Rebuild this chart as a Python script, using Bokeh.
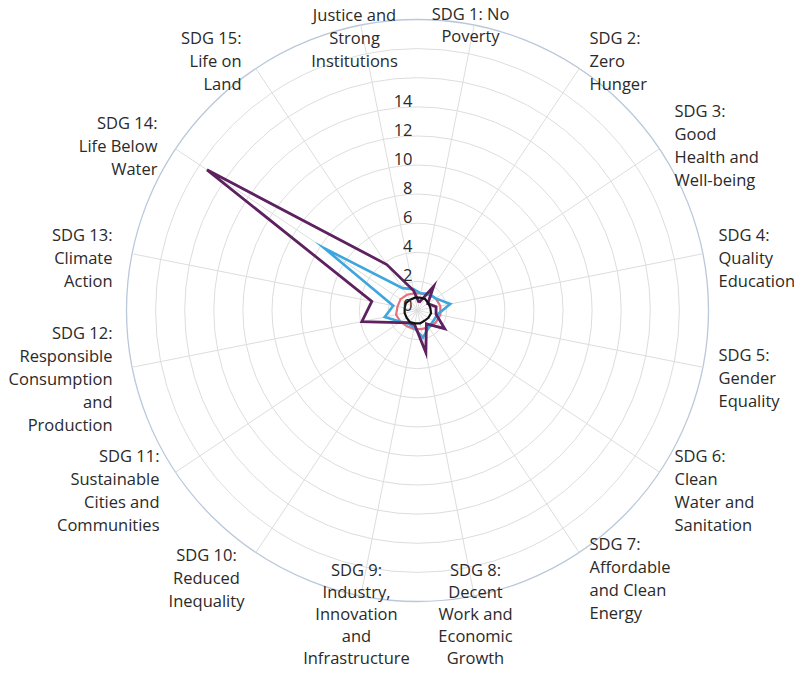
import math
from bokeh.plotting import figure
from bokeh.models import Range1d, ColumnDataSource
from bokeh.core.properties import value
from bokeh.embed import file_html
from bokeh.resources import INLINE

# ---------------- data ----------------
categories = ["SDG 1", "SDG 2", "SDG 3", "SDG 4", "SDG 5", "SDG 6", "SDG 7", "SDG 8",
              "SDG 9", "SDG 10", "SDG 11", "SDG 12", "SDG 13", "SDG 14", "SDG 15", "SDG 16"]

category_labels = [
    ["SDG 1: No", "Poverty"],
    ["SDG 2:", "Zero", "Hunger"],
    ["SDG 3:", "Good", "Health and", "Well-being"],
    ["SDG 4:", "Quality", "Education"],
    ["SDG 5:", "Gender", "Equality"],
    ["SDG 6:", "Clean", "Water and", "Sanitation"],
    ["SDG 7:", "Affordable", "and Clean", "Energy"],
    ["SDG 8:", "Decent", "Work and", "Economic", "Growth"],
    ["SDG 9:", "Industry,", "Innovation", "and", "Infrastructure"],
    ["SDG 10:", "Reduced", "Inequality"],
    ["SDG 11:", "Sustainable", "Cities and", "Communities"],
    ["SDG 12:", "Responsible", "Consumption", "and", "Production"],
    ["SDG 13:", "Climate", "Action"],
    ["SDG 14:", "Life Below", "Water"],
    ["SDG 15:", "Life on", "Land"],
    ["Justice and", "Strong", "Institutions"],
]

series_purple = [0.55, 2.0, 0.85, 1.3, 1.3, 2.25, 1.1, 2.95, 1.0, 1.0, 1.5, 3.9, 3.2, 17.4, 3.8, 1.4]
series_blue   = [1.2, 1.4, 1.5, 2.3, 1.4, 1.3, 1.4, 1.9, 1.2, 1.1, 1.4, 2.3, 1.7, 7.7, 1.85, 1.5]
series_pink   = [1.2, 1.3, 1.5, 1.6, 1.6, 1.5, 1.4, 1.3, 1.3, 1.3, 1.4, 1.5, 1.4, 1.4, 1.3, 1.2]
series_black  = [0.9, 0.95, 0.9, 0.9, 0.95, 0.9, 0.85, 0.9, 0.9, 0.95, 0.9, 0.9, 0.9, 0.95, 0.9, 0.9]

tick_values = [0, 2, 4, 6, 8, 10, 12, 14]
ring_values = [2, 4, 6, 8, 10, 12, 14, 16, 18]
axis_max = 20

# ---------------- layout ----------------
W, H = 794, 668
CX, CY = 417, 310          # centre in figure pixels
PX = 14.55                 # pixels per unit

def dx(px):
    return (px - CX) / PX

def dy(py):
    return (CY - py) / PX

p = figure(width=W, height=H, output_backend="svg", toolbar_location=None,
           x_range=Range1d(dx(0), dx(W)), y_range=Range1d(dy(H), dy(0)),
           min_border=0)
p.axis.visible = False
p.grid.visible = False
p.outline_line_color = None
p.background_fill_color = "white"
p.border_fill_color = "white"

n = len(categories)
angles = [math.radians(11.25 + 22.5 * k) for k in range(n)]

# grid rings
p.circle(x=[0] * len(ring_values), y=[0] * len(ring_values), radius=ring_values,
         fill_color=None, line_color="#dddddd", line_width=1)
p.circle(x=[0], y=[0], radius=[axis_max], fill_color=None, line_color="#b9c8da", line_width=1.3)
# spokes
p.segment(x0=[0] * n, y0=[0] * n,
          x1=[axis_max * math.sin(a) for a in angles],
          y1=[axis_max * math.cos(a) for a in angles],
          line_color="#dddddd", line_width=1)

def draw(vals, color, width):
    xs = [v * math.sin(a) for v, a in zip(vals, angles)]
    ys = [v * math.cos(a) for v, a in zip(vals, angles)]
    xs.append(xs[0]); ys.append(ys[0])
    p.line(xs, ys, line_color=color, line_width=width, line_join="miter")

draw(series_pink, "#e2737d", 2.2)
draw(series_blue, "#3ea6de", 2.6)
draw(series_purple, "#5e2160", 2.8)
draw(series_black, "#111111", 2.2)

FONT = value("Open Sans")
FS = "16.5px"
TXT = "#2a2a2a"

# tick labels
p.text(x=[dx(CX - 5)] * len(tick_values), y=tick_values, text=[str(t) for t in tick_values],
       text_align="right", text_baseline="middle", y_offset=-6,
       text_font=FONT, text_font_size=FS, text_color=TXT)

# category label placement (anchor px, first line centre px, alignment, line step)
label_place = [
    (470, 13, "center", 22),
    (589, 37, "left", 23),
    (674, 110, "left", 23),
    (718, 234, "left", 23),
    (718, 354, "left", 23),
    (674, 455, "left", 23),
    (589, 543, "left", 23),
    (475, 569, "center", 22),
    (356, 569, "center", 22),
    (206, 554, "center", 23),
    (159, 455, "right", 23),
    (112, 332, "right", 23),
    (112, 234, "right", 23),
    (157, 122, "right", 23),
    (241, 37, "right", 23),
    (354, 14, "center", 23),
]

lx, ly, lt, la = [], [], [], []
for lines, (ax, ay, al, step) in zip(category_labels, label_place):
    for i, t in enumerate(lines):
        lx.append(dx(ax)); ly.append(dy(ay + i * step)); lt.append(t); la.append(al)

src = ColumnDataSource(dict(x=lx, y=ly, text=lt, align=la))
p.text(x="x", y="y", text="text", text_align="align", text_baseline="middle", source=src,
       text_font=FONT, text_font_size=FS, text_color=TXT)

open("out.html", "w").write(file_html(p, INLINE))
